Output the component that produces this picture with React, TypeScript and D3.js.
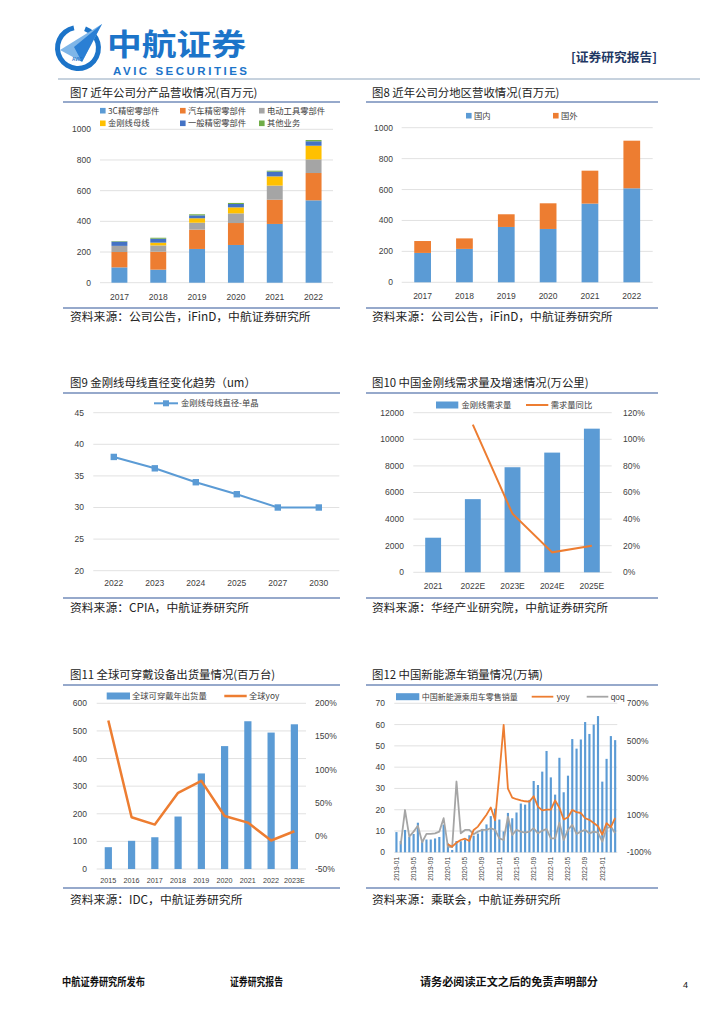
import * as d3 from 'd3';

const SANS = '"Liberation Sans", Arial, sans-serif';
const CJK = '"Noto Sans CJK SC", "Noto Sans", sans-serif';
const BLUE = '#5B9BD5';
const ORANGE = '#ED7D31';
const GRAY = '#A5A5A5';
const GRID = '#D9D9D9';
const TXT = '#404040';
const RULE = '#2F5597';

// 图7 分产品营收 (百万元)
const years = ['2017', '2018', '2019', '2020', '2021', '2022'];
const prodKeys = ['3C精密零部件', '汽车精密零部件', '电动工具零部件', '金刚线母线', '一般精密零部件', '其他业务'];
const prodColors = ['#5B9BD5', '#ED7D31', '#A5A5A5', '#FFC000', '#4472C4', '#70AD47'];
const rev3C = [100, 85, 220, 246, 383, 537];
const revAuto = [100, 117, 126, 143, 158, 178];
const revTool = [40, 41, 45, 63, 92, 89];
const revWire = [0, 18, 29, 39, 60, 89];
const revGeneral = [28, 26, 19, 22, 31, 29];
const revOther = [3, 6, 7, 7, 6, 8];

// 图8 分地区营收 (百万元)
const regionKeys = ['国内', '国外'];
const revDomestic = [190, 216, 358, 345, 509, 608];
const revOverseas = [77, 68, 82, 166, 213, 308];

// 图9 金刚线母线直径 (um)
const wireYears = ['2022', '2023', '2024', '2025', '2027', '2030'];
const wireDiameter = [38, 36.2, 34, 32.1, 30, 30];

// 图10 金刚线需求量 (万公里)
const demandYears = ['2021', '2022E', '2023E', '2024E', '2025E'];
const demand = [2600, 5500, 7900, 9000, 10800];
const demandYoy = [null, 111, 44, 15, 20];

// 图11 可穿戴设备出货量 (百万台)
const wearYears = ['2015', '2016', '2017', '2018', '2019', '2020', '2021', '2022', '2023E'];
const wearShip = [79, 102, 115, 190, 346, 445, 535, 494, 524];
const wearYoy = [174, 28, 17, 65, 83, 30, 20, -7, 7];

// 图12 新能源乘用车零售 (万辆), 2019-01 ~ 2023-04
const nevMonths = d3.timeMonths(new Date(2019, 0, 1), new Date(2023, 4, 1)).map(d3.timeFormat('%Y-%m'));
const nevTicks = ['2019-01', '2019-05', '2019-09', '2020-01', '2020-05', '2020-09', '2021-01', '2021-05', '2021-09', '2022-01', '2022-05', '2022-09', '2023-01'];
const nevSales = [
  9.5, 5.3, 10.5, 7.2, 8.6, 13.9, 5.5, 6.0, 6.0, 6.5, 7.2, 13.0,
  4.2, 1.1, 5.3, 5.2, 6.0, 8.0, 7.8, 8.8, 11.0, 13.1, 17.0, 20.5,
  15.4, 9.8, 18.5, 16.0, 18.7, 22.9, 22.4, 24.6, 33.5, 31.6, 37.9, 47.6,
  35.2, 27.1, 44.4, 28.2, 36.0, 53.2, 48.7, 53.0, 61.2, 55.6, 60.0, 64.0,
  33.2, 43.9, 54.6, 52.7,
];
const nevYoy = [
  null, null, null, null, null, null, null, null, null, null, null, null,
  -57, -70, -48, -34, -27, -39, 20, 38, 70, 102, 141, 72,
  320, 584, 242, 194, 185, 179, 174, 172, 201, 145, 125, 129,
  129, 179, 139, 76, 88, 127, 116, 111, 83, 74, 57, 40,
  -5, 57, 35, 85,
];
const nevQoq = [
  null, -57, 127, -16, 11, 43, -46, -1, -1, 2, 11, 83,
  -69, -72, 280, 2, 20, 20, -3, 11, 20, 20, 29, 20,
  -25, -34, 92, -7, 20, 11, 6, 11, 29, 2, 16, 24,
  -25, -25, 59, -34, 20, 47, -1, 11, 20, 2, 11, 6,
  -43, 29, 38, 2,
];

type PanelProps = { x1: number; x2: number; tx: number; row: number; title: string; source: string };
const rows = [
  { titleY: 93, lineY: 102, bottomY: 308, sourceY: 317 },
  { titleY: 383, lineY: 393, bottomY: 598, sourceY: 608 },
  { titleY: 675, lineY: 685, bottomY: 888, sourceY: 900 },
];

function Panel({ x1, x2, tx, row, title, source }: PanelProps) {
  const r = rows[row];
  return (
    <g>
      <text x={tx} y={r.titleY} dy="0.35em" fontFamily={CJK} fontSize={11.4} fill="#222">{title}</text>
      <line x1={x1} x2={x2} y1={r.lineY} y2={r.lineY} stroke={RULE} strokeWidth={1.2} />
      <line x1={x1} x2={x2} y1={r.bottomY} y2={r.bottomY} stroke={RULE} strokeWidth={1.2} />
      <text x={tx} y={r.sourceY} dy="0.35em" fontFamily={CJK} fontSize={11.8} fill="#222">{source}</text>
    </g>
  );
}

function Chart7() {
  const x = d3.scaleBand().domain(years).range([100, 333]).paddingInner(0.59).paddingOuter(0.295);
  const y = d3.scaleLinear().domain([0, 1000]).range([282.7, 129.3]);
  const cols = [rev3C, revAuto, revTool, revWire, revGeneral, revOther];
  const rowsData = years.map((yr, i) => {
    const o: any = { year: yr };
    prodKeys.forEach((k, j) => (o[k] = cols[j][i]));
    return o;
  });
  const series = d3.stack().keys(prodKeys)(rowsData);
  const legendPos = [[100, 110.7], [180, 110.7], [259, 110.7], [100, 123.3], [180, 123.3], [259, 123.3]];
  return (
    <g>
      {y.ticks(5).map((t) => (
        <g key={t}>
          <line x1={100} x2={333} y1={y(t)} y2={y(t)} stroke={GRID} strokeWidth={0.8} />
          <text x={91} y={y(t)} dy="0.35em" textAnchor="end" fontFamily={SANS} fontSize={8.5} fill={TXT}>{t}</text>
        </g>
      ))}
      {series.map((s, j) => (
        <g key={s.key} fill={prodColors[j]}>
          {s.map((d: any) => (
            <rect key={d.data.year} x={x(d.data.year)} width={x.bandwidth()} y={y(d[1])} height={Math.max(0, y(d[0]) - y(d[1]))} />
          ))}
        </g>
      ))}
      {years.map((yr) => (
        <text key={yr} x={x(yr)! + x.bandwidth() / 2} y={297} dy="0.35em" textAnchor="middle" fontFamily={SANS} fontSize={8.5} fill={TXT}>{yr}</text>
      ))}
      {prodKeys.map((k, j) => (
        <g key={k}>
          <rect x={legendPos[j][0]} y={legendPos[j][1] - 2.8} width={5.6} height={5.6} fill={prodColors[j]} />
          <text x={legendPos[j][0] + 8} y={legendPos[j][1]} dy="0.35em" fontFamily={CJK} fontSize={8.3} fill={TXT}>{k}</text>
        </g>
      ))}
    </g>
  );
}

function Chart8() {
  const x = d3.scaleBand().domain(years).range([401.7, 652.7]).paddingInner(0.6).paddingOuter(0.3);
  const y = d3.scaleLinear().domain([0, 1000]).range([282.3, 127.7]);
  const rowsData = years.map((yr, i) => ({ year: yr, 国内: revDomestic[i], 国外: revOverseas[i] }));
  const series = d3.stack().keys(regionKeys)(rowsData as any);
  const colors = [BLUE, ORANGE];
  const legendX = [466, 553];
  return (
    <g>
      {y.ticks(5).map((t) => (
        <g key={t}>
          <line x1={401.7} x2={652.7} y1={y(t)} y2={y(t)} stroke={GRID} strokeWidth={0.8} />
          <text x={393} y={y(t)} dy="0.35em" textAnchor="end" fontFamily={SANS} fontSize={8.5} fill={TXT}>{t}</text>
        </g>
      ))}
      {series.map((s, j) => (
        <g key={s.key} fill={colors[j]}>
          {s.map((d: any) => (
            <rect key={d.data.year} x={x(d.data.year)} width={x.bandwidth()} y={y(d[1])} height={y(d[0]) - y(d[1])} />
          ))}
        </g>
      ))}
      {years.map((yr) => (
        <text key={yr} x={x(yr)! + x.bandwidth() / 2} y={296} dy="0.35em" textAnchor="middle" fontFamily={SANS} fontSize={8.5} fill={TXT}>{yr}</text>
      ))}
      {regionKeys.map((k, j) => (
        <g key={k}>
          <rect x={legendX[j]} y={115.7 - 2.8} width={5.6} height={5.6} fill={colors[j]} />
          <text x={legendX[j] + 8} y={115.7} dy="0.35em" fontFamily={CJK} fontSize={8.3} fill={TXT}>{k}</text>
        </g>
      ))}
    </g>
  );
}

function Chart9() {
  const x = d3.scalePoint().domain(wireYears).range([93.3, 339.3]).padding(0.5);
  const y = d3.scaleLinear().domain([20, 45]).range([570.7, 412.7]);
  const line = d3.line<number>().x((_, i) => x(wireYears[i])!).y((d) => y(d));
  return (
    <g>
      {y.ticks(5).map((t) => (
        <g key={t}>
          <line x1={93.3} x2={339.3} y1={y(t)} y2={y(t)} stroke={GRID} strokeWidth={0.8} />
          <text x={84} y={y(t)} dy="0.35em" textAnchor="end" fontFamily={SANS} fontSize={8.5} fill={TXT}>{t}</text>
        </g>
      ))}
      <path d={line(wireDiameter)!} fill="none" stroke={BLUE} strokeWidth={2} />
      {wireDiameter.map((v, i) => (
        <rect key={i} x={x(wireYears[i])! - 3.2} y={y(v) - 3.2} width={6.4} height={6.4} fill={BLUE} />
      ))}
      {wireYears.map((yr) => (
        <text key={yr} x={x(yr)} y={583.5} dy="0.35em" textAnchor="middle" fontFamily={SANS} fontSize={8.5} fill={TXT}>{yr}</text>
      ))}
      <line x1={154} x2={178} y1={403.3} y2={403.3} stroke={BLUE} strokeWidth={2} />
      <rect x={163} y={400.3} width={6} height={6} fill={BLUE} />
      <text x={181} y={403.3} dy="0.35em" fontFamily={CJK} fontSize={8.3} fill={TXT}>金刚线母线直径-单晶</text>
    </g>
  );
}

function Chart10() {
  const x = d3.scaleBand().domain(demandYears).range([413.3, 611.7]).paddingInner(0.6).paddingOuter(0.3);
  const y = d3.scaleLinear().domain([0, 12000]).range([572.3, 412.7]);
  const y2 = d3.scaleLinear().domain([0, 120]).range([572.3, 412.7]);
  const line = d3.line<number | null>().defined((d) => d != null)
    .x((_, i) => x(demandYears[i])! + x.bandwidth() / 2).y((d) => y2(d as number));
  return (
    <g>
      {y.ticks(6).map((t) => (
        <g key={t}>
          <line x1={413.3} x2={611.7} y1={y(t)} y2={y(t)} stroke={GRID} strokeWidth={0.8} />
          <text x={404} y={y(t)} dy="0.35em" textAnchor="end" fontFamily={SANS} fontSize={8.5} fill={TXT}>{t}</text>
        </g>
      ))}
      {y2.ticks(6).map((t) => (
        <text key={t} x={623} y={y2(t)} dy="0.35em" fontFamily={SANS} fontSize={8.5} fill={TXT}>{t}%</text>
      ))}
      {demand.map((v, i) => (
        <rect key={i} x={x(demandYears[i])} width={x.bandwidth()} y={y(v)} height={y(0) - y(v)} fill={BLUE} />
      ))}
      <path d={line(demandYoy)!} fill="none" stroke={ORANGE} strokeWidth={2} />
      {demandYears.map((yr) => (
        <text key={yr} x={x(yr)! + x.bandwidth() / 2} y={586} dy="0.35em" textAnchor="middle" fontFamily={SANS} fontSize={8.5} fill={TXT}>{yr}</text>
      ))}
      <rect x={436} y={401.5} width={22.3} height={7} fill={BLUE} />
      <text x={461.5} y={405} dy="0.35em" fontFamily={CJK} fontSize={8.3} fill={TXT}>金刚线需求量</text>
      <line x1={526} x2={548.3} y1={405} y2={405} stroke={ORANGE} strokeWidth={2} />
      <text x={550.7} y={405} dy="0.35em" fontFamily={CJK} fontSize={8.3} fill={TXT}>需求量同比</text>
    </g>
  );
}

function Chart11() {
  const x = d3.scaleBand().domain(wearYears).range([96.7, 306]).paddingInner(0.69).paddingOuter(0.345);
  const y = d3.scaleLinear().domain([0, 600]).range([869, 703.3]);
  const y2 = d3.scaleLinear().domain([-50, 200]).range([869, 703.3]);
  const line = d3.line<number>().x((_, i) => x(wearYears[i])! + x.bandwidth() / 2).y((d) => y2(d));
  return (
    <g>
      {y.ticks(6).map((t) => (
        <g key={t}>
          <line x1={96.7} x2={306} y1={y(t)} y2={y(t)} stroke={GRID} strokeWidth={0.8} />
          <text x={87} y={y(t)} dy="0.35em" textAnchor="end" fontFamily={SANS} fontSize={8.5} fill={TXT}>{t}</text>
        </g>
      ))}
      {y2.ticks(5).map((t) => (
        <text key={t} x={315} y={y2(t)} dy="0.35em" fontFamily={SANS} fontSize={8.5} fill={TXT}>{t}%</text>
      ))}
      {wearShip.map((v, i) => (
        <rect key={i} x={x(wearYears[i])} width={x.bandwidth()} y={y(v)} height={y(0) - y(v)} fill={BLUE} />
      ))}
      <path d={line(wearYoy)!} fill="none" stroke={ORANGE} strokeWidth={2.5} strokeLinejoin="round" />
      {wearYears.map((yr) => (
        <text key={yr} x={x(yr)! + x.bandwidth() / 2} y={880.7} dy="0.35em" textAnchor="middle" fontFamily={SANS} fontSize={7.2} fill={TXT}>{yr}</text>
      ))}
      <rect x={106.7} y={692.5} width={23.3} height={7} fill={BLUE} />
      <text x={132} y={696} dy="0.35em" fontFamily={CJK} fontSize={8.3} fill={TXT}>全球可穿戴年出货量</text>
      <line x1={224.3} x2={246.7} y1={696} y2={696} stroke={ORANGE} strokeWidth={2.5} />
      <text x={249} y={696} dy="0.35em" fontFamily={CJK} fontSize={8.3} fill={TXT}>全球yoy</text>
    </g>
  );
}

function Chart12() {
  const x = d3.scaleBand().domain(nevMonths).range([394.3, 617.3]).paddingInner(0.5).paddingOuter(0.25);
  const y = d3.scaleLinear().domain([0, 70]).range([852.3, 703.3]);
  const y2 = d3.scaleLinear().domain([-100, 700]).range([852.3, 703.3]);
  const cx = (i: number) => x(nevMonths[i])! + x.bandwidth() / 2;
  const line = d3.line<number | null>().defined((d) => d != null).x((_, i) => cx(i)).y((d) => y2(d as number));
  return (
    <g>
      {y.ticks(7).map((t) => (
        <g key={t}>
          <line x1={394.3} x2={617.3} y1={y(t)} y2={y(t)} stroke={GRID} strokeWidth={0.8} />
          <text x={385} y={y(t)} dy="0.35em" textAnchor="end" fontFamily={SANS} fontSize={8.5} fill={TXT}>{t}</text>
        </g>
      ))}
      {[-100, 100, 300, 500, 700].map((t) => (
        <text key={t} x={626.7} y={y2(t)} dy="0.35em" fontFamily={SANS} fontSize={8.5} fill={TXT}>{t}%</text>
      ))}
      {nevSales.map((v, i) => (
        <rect key={i} x={x(nevMonths[i])} width={x.bandwidth()} y={y(v)} height={y(0) - y(v)} fill={BLUE} />
      ))}
      <path d={line(nevQoq)!} fill="none" stroke={GRAY} strokeWidth={1.8} strokeLinejoin="round" />
      <path d={line(nevYoy)!} fill="none" stroke={ORANGE} strokeWidth={1.8} strokeLinejoin="round" />
      {nevTicks.map((m) => (
        <text key={m} transform={`translate(${x(m)! + x.bandwidth() / 2},857) rotate(-90)`} dy="0.35em" textAnchor="end" fontFamily={SANS} fontSize={6.5} fill={TXT}>{m}</text>
      ))}
      <rect x={396} y={693.2} width={23.3} height={7} fill={BLUE} />
      <text x={421.7} y={696.7} dy="0.35em" fontFamily={CJK} fontSize={8} fill={TXT}>中国新能源乘用车零售销量</text>
      <line x1={531.7} x2={553.3} y1={696.7} y2={696.7} stroke={ORANGE} strokeWidth={1.8} />
      <text x={556.7} y={696.7} dy="0.35em" fontFamily={SANS} fontSize={8.3} fill={TXT}>yoy</text>
      <line x1={586.7} x2={608.3} y1={696.7} y2={696.7} stroke={GRAY} strokeWidth={1.8} />
      <text x={610.7} y={696.7} dy="0.35em" fontFamily={SANS} fontSize={8.3} fill={TXT}>qoq</text>
    </g>
  );
}

function Header() {
  const arc = d3.arc()({ innerRadius: 18, outerRadius: 23, startAngle: 0.35, endAngle: 2 * Math.PI - 0.2 })!;
  return (
    <g>
      <path d={arc} transform="translate(78,48)" fill="#1c74c9" />
      <polygon points="60,50 102,24 82,62" fill="#7fb6e8" />
      <polygon points="74,47 102,24 82,62" fill="#2a7fd4" />
      <text x={72} y={61} fontFamily={SANS} fontSize={4.5} fontWeight="bold" fill="#1c74c9">AVIC</text>
      <text x={107} y={55} fontFamily={CJK} fontSize={30} fontWeight="bold" fill="#1c74c9" textLength={139} lengthAdjust="spacingAndGlyphs">中航证券</text>
      <text x={113} y={75} fontFamily={SANS} fontSize={11.5} fontWeight="bold" fill="#1c74c9" textLength={134}>AVIC SECURITIES</text>
      <text x={571} y={58} dy="0.35em" fontFamily={CJK} fontSize={12.5} fontWeight="bold" fill="#1f3864" textLength={86} lengthAdjust="spacingAndGlyphs">[证券研究报告]</text>
      <line x1={58} x2={700} y1={79} y2={79} stroke="#8ea5bd" strokeWidth={1} />
    </g>
  );
}

function Footer() {
  const st = { fontFamily: CJK, fontSize: 11, fontWeight: 'bold' as const, fill: '#111', lengthAdjust: 'spacingAndGlyphs' };
  return (
    <g>
      <text x={62} y={982} dy="0.35em" {...st} textLength={83}>中航证券研究所发布</text>
      <text x={230} y={982} dy="0.35em" {...st} textLength={53}>证券研究报告</text>
      <text x={420} y={982} dy="0.35em" {...st} textLength={178}>请务必阅读正文之后的免责声明部分</text>
      <text x={683} y={985} dy="0.35em" fontFamily={SANS} fontSize={9} fill="#111">4</text>
    </g>
  );
}

export default function App() {
  return (
    <svg width={724} height={1024} style={{ position: 'absolute', left: 0, top: 0, background: '#fff' }}>
      <rect width={724} height={1024} fill="#fff" />
      <Header />
      <Panel x1={63} x2={340} tx={70} row={0} title="图7  近年公司分产品营收情况(百万元)" source="资料来源：公司公告，iFinD，中航证券研究所" />
      <Panel x1={366} x2={658} tx={372} row={0} title="图8  近年公司分地区营收情况(百万元)" source="资料来源：公司公告，iFinD，中航证券研究所" />
      <Panel x1={63} x2={340} tx={70} row={1} title="图9  金刚线母线直径变化趋势（um）" source="资料来源：CPIA，中航证券研究所" />
      <Panel x1={366} x2={658} tx={372} row={1} title="图10  中国金刚线需求量及增速情况(万公里)" source="资料来源：华经产业研究院，中航证券研究所" />
      <Panel x1={63} x2={340} tx={70} row={2} title="图11  全球可穿戴设备出货量情况(百万台)" source="资料来源：IDC，中航证券研究所" />
      <Panel x1={366} x2={658} tx={372} row={2} title="图12  中国新能源车销量情况(万辆)" source="资料来源：乘联会，中航证券研究所" />
      <Chart7 />
      <Chart8 />
      <Chart9 />
      <Chart10 />
      <Chart11 />
      <Chart12 />
      <Footer />
    </svg>
  );
}
